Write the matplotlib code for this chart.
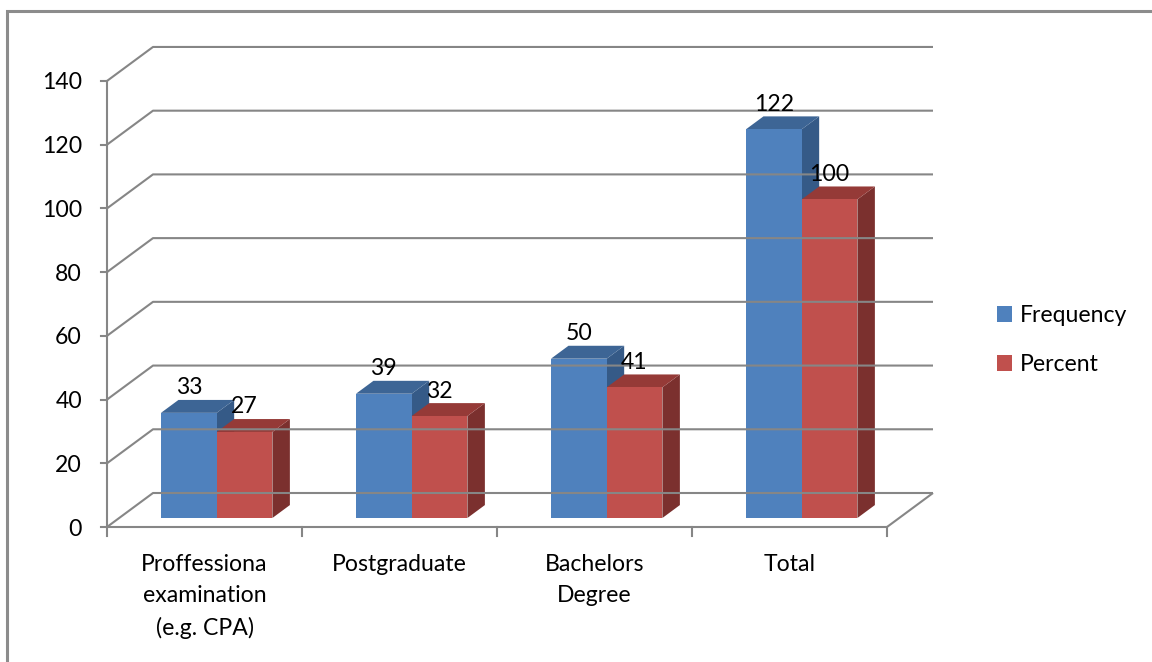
import matplotlib
matplotlib.use("Agg")
import matplotlib.pyplot as plt
from matplotlib.patches import Polygon, Patch

# ---- data -------------------------------------------------------------
categories = ["Proffessiona\nexamination\n(e.g. CPA)", "Postgraduate",
              "Bachelors\nDegree", "Total"]
frequency = [33, 39, 50, 122]
percent = [27, 32, 41, 100]
series_names = ["Frequency", "Percent"]
y_ticks = [0, 20, 40, 60, 80, 100, 120, 140]

# ---- styling ----------------------------------------------------------
plt.rcParams["font.family"] = ["Lato", "DejaVu Sans"]
FONT = 16.6
GRID = "#868686"
front_cols = ["#4F81BD", "#C0504D"]
top_cols = ["#3D6595", "#953A37"]
side_cols = ["#355A87", "#7B302E"]

# oblique projection of (category position, value, depth) onto the canvas
ORIGIN_X, ORIGIN_Y = 107, 527
CAT_W = 195
UNIT = 3.186
DEPTH_X, DEPTH_Y = 46, -34
Y_MAX = 140


def P(u, v, d):
    return (ORIGIN_X + u * CAT_W + d * DEPTH_X,
            ORIGIN_Y - v * UNIT + d * DEPTH_Y)


fig = plt.figure(figsize=(11.52, 6.62), dpi=100)
ax = fig.add_axes([0, 0, 1, 1])
ax.set_xlim(0, 1152)
ax.set_ylim(662, 0)
ax.axis("off")

# chart area border (top and left edges visible)
ax.plot([7, 7, 1152], [662, 11, 11], color="#8C8C8C", lw=2.2,
        solid_capstyle="butt", solid_joinstyle="miter")

n = len(categories)
lw = 1.5

# gridlines on the side and back walls
for v in y_ticks:
    xs, ys = zip(P(0, v, 0), P(0, v, 1), P(n, v, 1))
    ax.plot(xs, ys, color=GRID, lw=lw, solid_capstyle="butt")

# floor outline
fx, fy = zip(P(n, 0, 1), P(n, 0, 0), P(0, 0, 0))
ax.plot(fx, fy, color=GRID, lw=lw, solid_capstyle="butt")

# value axis with ticks and labels
ax.plot(*zip(P(0, 0, 0), P(0, Y_MAX, 0)), color=GRID, lw=lw)
for v in y_ticks:
    x0, y0 = P(0, v, 0)
    ax.plot([x0 - 6, x0], [y0, y0], color=GRID, lw=lw)
    ax.text(x0 - 25, y0 + 2, str(v), ha="right", va="center", fontsize=FONT,
            color="black")

# category axis ticks and labels
for i in range(n + 1):
    x0, y0 = P(i, 0, 0)
    ax.plot([x0, x0], [y0, y0 + 9], color=GRID, lw=lw)
for i, lab in enumerate(categories):
    x0, y0 = P(i + 0.5, 0, 0)
    ax.text(x0, y0 + 27, lab, ha="center", va="top", fontsize=FONT,
            linespacing=1.6, color="black")

# 3-D columns
gap = 1.5
bw = 1.0 / (2 + gap)
d0, d1 = 0.265, 0.645
for i in range(n):
    for s, vals in enumerate([frequency, percent]):
        v = vals[i]
        u0 = i + bw * gap / 2 + s * bw
        u1 = u0 + bw
        front = [P(u0, 0, d0), P(u1, 0, d0), P(u1, v, d0), P(u0, v, d0)]
        top = [P(u0, v, d0), P(u1, v, d0), P(u1, v, d1), P(u0, v, d1)]
        side = [P(u1, 0, d0), P(u1, 0, d1), P(u1, v, d1), P(u1, v, d0)]
        ax.add_patch(Polygon(side, closed=True, fc=side_cols[s], ec="none"))
        ax.add_patch(Polygon(top, closed=True, fc=top_cols[s], ec="none"))
        ax.add_patch(Polygon(front, closed=True, fc=front_cols[s], ec="none"))
        lx, ly = P((u0 + u1) / 2, v, d0)
        ax.text(lx, ly - 25, str(v), ha="center", va="center",
                fontsize=FONT, color="black")

# legend
handles = [Patch(facecolor=c, edgecolor="none") for c in front_cols]
ax.legend(handles, series_names, loc="center left",
          bbox_to_anchor=(997, 340), bbox_transform=ax.transData,
          frameon=False, fontsize=FONT, handlelength=0.66, handleheight=0.66,
          handletextpad=0.32, labelspacing=1.2, borderpad=0,
          borderaxespad=0)

fig.savefig("out.png", dpi=100, facecolor="white")
